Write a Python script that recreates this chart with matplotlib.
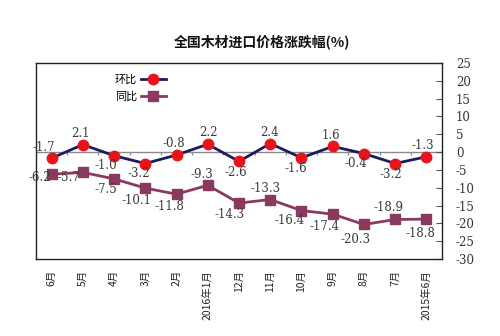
import matplotlib
matplotlib.use("Agg")
import matplotlib.pyplot as plt
import numpy as np

plt.rcParams['font.family'] = ['Noto Sans CJK SC', 'DejaVu Sans']

# Monthly change of national timber import prices (%), Jun 2015 - Jun 2016
months = ['2015年6月', '7月', '8月', '9月', '10月', '11月', '12月',
          '2016年1月', '2月', '3月', '4月', '5月', '6月']
mom = [-1.3, -3.2, -0.4, 1.6, -1.6, 2.4, -2.6, 2.2, -0.8, -3.2, -1.0, 2.1, -1.7]
yoy = [-18.8, -18.9, -20.3, -17.4, -16.4, -13.3, -14.3, -9.3, -11.8, -10.1, -7.5, -5.7, -6.2]
yticks = [-30, -25, -20, -15, -10, -5, 0, 5, 10, 15, 20, 25]
series_names = ['环比', '同比']
title = '全国木材进口价格涨跌幅(%)'

# label offsets in pixels (dx, dy) for each point
mom_off = [(-4, 11), (-4, -11), (-8, -10), (-2, 11), (-6, -11), (-1, 11), (-3, -11),
           (1, 12), (-3, 11), (-6, -10), (-8, -10), (-2, 11), (-8, 11)]
yoy_off = [(-6, -14), (-7, 12), (-8, -15), (-8, -12), (-12, -10), (-5, 11), (-9, -11),
           (-6, 11), (-7, -12), (-9, -12), (-8, -11), (-14, -5), (-12, -3)]

fig = plt.figure(figsize=(5.0, 3.36), dpi=100)
ax = fig.add_axes([0.072, 0.229, 0.812, 0.5835])

x = np.arange(len(months))
navy = '#1d1b5c'
red = '#e8141c'
plum = '#8a3a5e'

ax.plot(x, mom, color=navy, lw=2.0, marker='o', ms=7.5,
        mfc=red, mec=red, label=series_names[0], zorder=4)
ax.plot(x, yoy, color=plum, lw=2.0, marker='s', ms=6.5,
        mfc=plum, mec=plum, label=series_names[1], zorder=3)

label_style = dict(ha='center', va='center', fontsize=8.5, color='#3a3a3a',
                   family=['DejaVu Serif'], annotation_clip=False, zorder=5,
                   textcoords='offset pixels')
for xi, v, (dx, dy) in zip(x, mom, mom_off):
    ax.annotate(f'{v:.1f}', (xi, v), xytext=(dx, dy), **label_style)
for xi, v, (dx, dy) in zip(x, yoy, yoy_off):
    ax.annotate(f'{v:.1f}', (xi, v), xytext=(dx, dy), **label_style)

# category axis at zero with tick marks between categories
ax.axhline(0, color='#8a8a8a', lw=1.0, zorder=1)
bounds = np.arange(len(months) + 1) - 0.5
ax.vlines(bounds, -0.9, 0, color='#8a8a8a', lw=0.9, zorder=1)

ax.set_xlim(len(months) - 0.5, -0.5)
ax.set_ylim(-30, 25)

ax.set_xticks(x)
ax.set_xticklabels(months, rotation=90, fontsize=7.5, color='#222222', va='top')
ax.tick_params(axis='x', length=0, pad=8)

ax.yaxis.tick_right()
ax.set_yticks(yticks)
ax.set_yticklabels([str(t) for t in yticks], fontsize=8.5, color='#333333',
                   family=['DejaVu Serif'])
ax.tick_params(axis='y', direction='in', length=4, width=0.8, color='#555555', pad=10)

for s in ax.spines.values():
    s.set_color('#222222')
    s.set_linewidth(1.0)

ax.legend(loc='upper left', bbox_to_anchor=(0.17, 0.99), frameon=False,
          markerfirst=False, handlelength=2.3, fontsize=8, labelspacing=0.6,
          handletextpad=0.3)

fig.text(0.524, 0.875, title, ha='center', va='center', fontsize=10,
         fontweight='bold', color='#111111')

fig.savefig('out.png', dpi=100, facecolor='white')
